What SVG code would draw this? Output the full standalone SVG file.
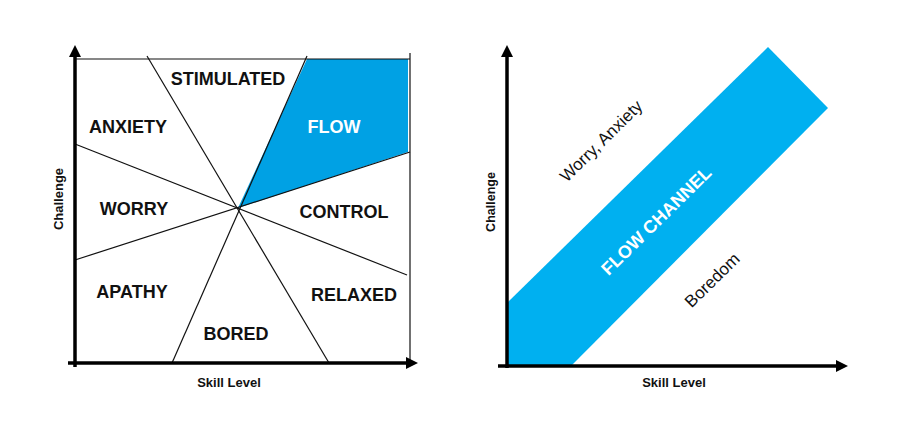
<svg xmlns="http://www.w3.org/2000/svg" width="900" height="434" viewBox="0 0 900 434">
<defs>
<marker id="arrow" markerUnits="userSpaceOnUse" markerWidth="14" markerHeight="12" refX="0" refY="6" orient="auto">
<path d="M0,0 L12,6 L0,12 z" fill="#000"/>
</marker>
</defs>
<style>
.axis{stroke:#000;stroke-width:3.5;fill:none}
.thin{stroke:#111;stroke-width:1.2;fill:none}
.lbl{font-family:"Liberation Sans",Arial,sans-serif;font-weight:bold;font-size:18px;fill:#111;text-anchor:middle}
.ax{font-family:"Liberation Sans",Arial,sans-serif;font-weight:bold;font-size:13px;fill:#111;text-anchor:middle}
.reg{font-family:"Liberation Sans",Arial,sans-serif;font-size:17px;fill:#111;text-anchor:middle}
</style>
<rect x="0" y="0" width="900" height="434" fill="#ffffff"/>

<g id="left-chart">
<g id="flow-region">
<polygon points="238,208 307,59 408,59 408,152" fill="#00a1e4"/>
<text class="lbl" x="334" y="133" style="fill:#fff">FLOW</text>
</g>
<g id="connectors-left">
<line class="thin" x1="75" y1="59" x2="410" y2="59"/>
<line class="thin" x1="410" y1="53" x2="410" y2="363"/>
<line class="thin" x1="147" y1="56" x2="329" y2="363"/>
<line class="thin" x1="307" y1="56" x2="172" y2="363"/>
<line class="thin" x1="75" y1="144" x2="407" y2="275"/>
<line class="thin" x1="75" y1="260" x2="410" y2="152"/>
<line class="axis" x1="75" y1="367" x2="75" y2="57" marker-end="url(#arrow)"/>
<line class="axis" x1="68" y1="363" x2="406" y2="363" marker-end="url(#arrow)"/>
</g>
<g id="stimulated"><text class="lbl" x="228" y="85">STIMULATED</text></g>
<g id="anxiety"><text class="lbl" x="128" y="133">ANXIETY</text></g>
<g id="worry"><text class="lbl" x="134" y="215">WORRY</text></g>
<g id="control"><text class="lbl" x="344" y="218">CONTROL</text></g>
<g id="apathy"><text class="lbl" x="132" y="298">APATHY</text></g>
<g id="relaxed"><text class="lbl" x="354" y="301">RELAXED</text></g>
<g id="bored"><text class="lbl" x="236" y="340">BORED</text></g>
<g id="left-axis-labels">
<text class="ax" transform="translate(63,199) rotate(-90)">Challenge</text>
<text class="ax" x="229" y="387">Skill Level</text>
</g>
</g>

<g id="right-chart">
<g id="flow-channel">
<polygon points="507,303 768,47 828,108 571,366 507,366" fill="#00b0f0"/>
<text class="lbl" transform="translate(656,220.5) rotate(-44.5)" y="6.5" style="fill:#fff">FLOW CHANNEL</text>
</g>
<g id="connectors-right">
<line class="axis" x1="507" y1="368" x2="507" y2="57" marker-end="url(#arrow)"/>
<line class="axis" x1="498" y1="366" x2="836" y2="366" marker-end="url(#arrow)"/>
</g>
<g id="worry-anxiety"><text class="reg" transform="translate(602,142) rotate(-44.5)" y="4.5">Worry, Anxiety</text></g>
<g id="boredom"><text class="reg" transform="translate(712,280) rotate(-44.5)" y="6">Boredom</text></g>
<g id="right-axis-labels">
<text class="ax" transform="translate(495,202) rotate(-90)" style="font-size:12.5px">Challenge</text>
<text class="ax" x="674" y="387">Skill Level</text>
</g>
</g>
</svg>
